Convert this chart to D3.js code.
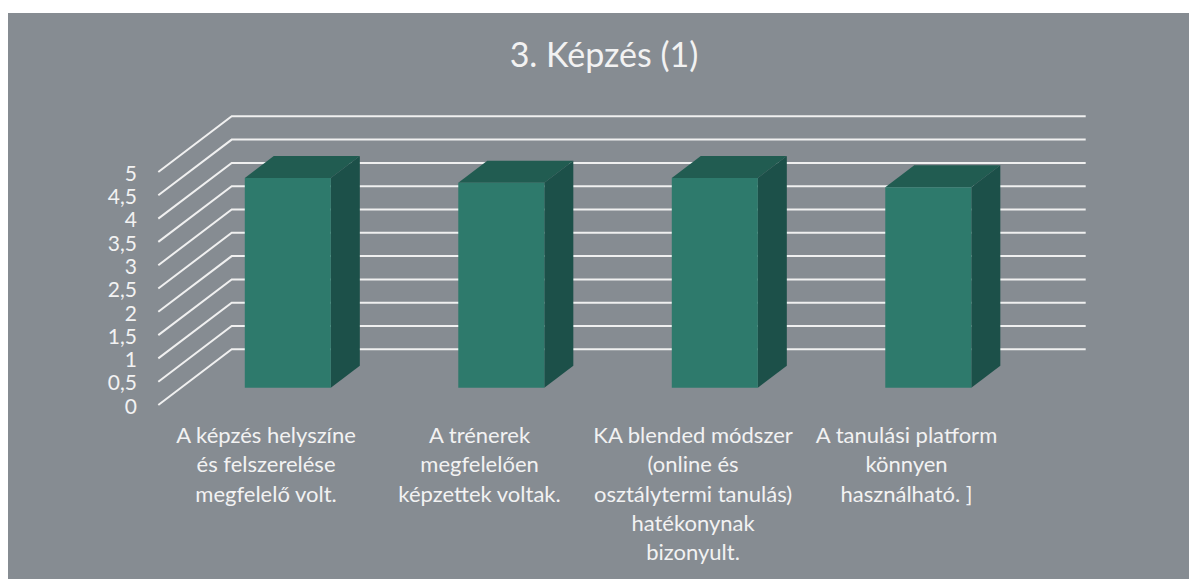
<!DOCTYPE html>
<html>
<head>
<meta charset="utf-8">
<script src="https://cdn.jsdelivr.net/npm/d3@7"></script>
<style>
    html, body { margin: 0; padding: 0; background: #fff; overflow: hidden; }
    text { font-family: Lato, sans-serif; fill: #f2f2f2; }
</style>
</head>
<body>
<svg id="chart"></svg>
<script>
const title = '3. Képzés (1)';
const categories = [
    'A képzés helyszíne\nés felszerelése\nmegfelelő volt.',
    'A trénerek\nmegfelelően\nképzettek voltak.',
    'KA blended módszer\n(online és\nosztálytermi tanulás)\nhatékonynak\nbizonyult.',
    'A tanulási platform\nkönnyen\nhasználható. ]'
];
const scores = [4.5, 4.4, 4.5, 4.3];
const yTicks = [0, 0.5, 1, 1.5, 2, 2.5, 3, 3.5, 4, 4.5, 5];

const width = 1189;
const height = 579;

const svg = d3.select('#chart')
    .attr('width', width)
    .attr('height', height);

svg.append('rect')
    .attr('x', 8)
    .attr('y', 13)
    .attr('width', width - 8)
    .attr('height', height - 13)
    .style('fill', '#868c92');

svg.append('text')
    .attr('x', 604)
    .attr('y', 67)
    .attr('text-anchor', 'middle')
    .style('font-size', '34px')
    .text(title);

const y = d3.scaleLinear().domain([0, 5]).range([405, 172]);
const x = d3.scaleBand()
    .domain(categories)
    .range([158.3, 1012.3])
    .paddingInner(0.597)
    .paddingOuter(0.2985);

// fake 3d: z 0 is the front of the floor, z 1 the back wall
const depthX = 73.4;
const depthY = 55.7;
const project = (px, v, z) => [px + z * depthX, y(v) - z * depthY];
const barZ0 = 0.31;
const barZ1 = 0.705;

const gridLine = d3.line();
svg.append('g')
    .selectAll('path')
    .data(yTicks)
    .enter()
    .append('path')
    .attr('d', d => gridLine([
        project(158.3, d, 0),
        project(158.3, d, 1),
        project(1012.3, d, 1)
    ]))
    .style('fill', 'none')
    .style('stroke', '#f0f0f0')
    .style('stroke-width', 2);

const yAxis = d3.axisLeft(y)
    .tickValues(yTicks)
    .tickSize(0)
    .tickPadding(0)
    .tickFormat(d => String(d).replace('.', ','));

const axisG = svg.append('g')
    .attr('transform', 'translate(137,1.5)')
    .call(yAxis);
axisG.select('.domain').remove();
axisG.selectAll('text')
    .style('font-size', '21px')
    .style('font-family', 'Lato, sans-serif')
    .style('fill', '#f2f2f2');

const face = pts => d3.line()(pts) + 'Z';
const bars = svg.append('g')
    .selectAll('g')
    .data(categories.map((c, i) => ({ category: c, score: scores[i] })))
    .enter()
    .append('g');

// top face
bars.append('path')
    .attr('d', d => {
        const l = x(d.category);
        const r = l + x.bandwidth();
        return face([
            project(l, d.score, barZ0),
            project(l, d.score, barZ1),
            project(r, d.score, barZ1),
            project(r, d.score, barZ0)
        ]);
    })
    .style('fill', '#215c51');

// side face
bars.append('path')
    .attr('d', d => {
        const r = x(d.category) + x.bandwidth();
        return face([
            project(r, d.score, barZ0),
            project(r, d.score, barZ1),
            project(r, 0, barZ1),
            project(r, 0, barZ0)
        ]);
    })
    .style('fill', '#1c5049');

// front face
bars.append('path')
    .attr('d', d => {
        const l = x(d.category);
        const r = l + x.bandwidth();
        return face([
            project(l, d.score, barZ0),
            project(r, d.score, barZ0),
            project(r, 0, barZ0),
            project(l, 0, barZ0)
        ]);
    })
    .style('fill', '#2e7a6c');

const labels = svg.append('g')
    .selectAll('text')
    .data(categories)
    .enter()
    .append('text')
    .attr('text-anchor', 'middle')
    .style('font-size', '22px');

labels.selectAll('tspan')
    .data(d => d.split('\n').map(line => ({ line, category: d })))
    .enter()
    .append('tspan')
    .attr('x', d => x(d.category) + x.bandwidth() / 2 + 1)
    .attr('y', (d, i) => 443 + i * 29.25)
    .text(d => d.line);
</script>
</body>
</html>
